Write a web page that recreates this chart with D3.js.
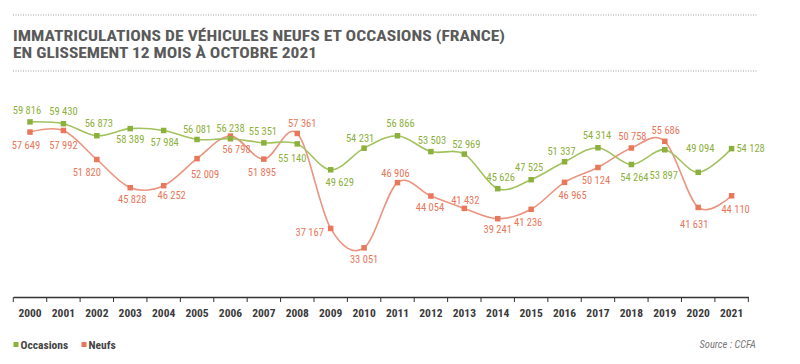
<!DOCTYPE html>
<html>
<head>
<meta charset="utf-8">
<script src="https://cdn.jsdelivr.net/npm/d3@7"></script>
<style>
  body { margin: 0; background: #fff; }
  svg { display: block; }
</style>
</head>
<body>
<script>
// years on the x axis
var years = d3.range(2000, 2022).map(String);

// plotted values (the 2018 points in the source are drawn with the values swapped)
var occasions = [59816, 59430, 56873, 58389, 57984, 56081, 56238, 55351, 55140, 49629, 54231,
                 56866, 53503, 52969, 45626, 47525, 51337, 54314, 50758, 53897, 49094, 54128];
var neufs = [57649, 57992, 51820, 45828, 46252, 52009, 56798, 51895, 57361, 37167, 33051,
             46906, 44054, 41432, 39241, 41236, 46965, 50124, 54264, 55686, 41631, 44110];

// figures printed next to the points
var occasionsLabels = [59816, 59430, 56873, 58389, 57984, 56081, 56238, 55351, 55140, 49629, 54231,
                       56866, 53503, 52969, 45626, 47525, 51337, 54314, 54264, 53897, 49094, 54128];
var neufsLabels = [57649, 57992, 51820, 45828, 46252, 52009, 56798, 51895, 57361, 37167, 33051,
                   46906, 44054, 41432, 39241, 41236, 46965, 50124, 50758, 55686, 41631, 44110];

// where each label sits relative to its point
var occOffsets = [[-3,-12],[0,-12],[2,-12],[0,11],[1,12],[0,-10],[0,-10],[-1,-12],[-5,14],[9,13],[-4,-10],
                  [3,-12],[1,-11],[2,-10],[3,-11],[-2,-12],[-3,-10],[-1,-12],[3,13],[-1,26],[2,-24],[19,0]];
var neufOffsets = [[-4,13],[0,15],[-10,13],[2,12],[8,10],[8,16],[6,13],[-2,13],[5,-10],[-21,4],[0,12],
                   [-2,-9],[-1,11],[1,-8],[0,11],[-3,13],[8,13],[-2,13],[1,-12],[1,-11],[-4,17],[4,14]];

var w = 800, h = 364;
var green = "#8cb03c", red = "#e8775b";

var svg = d3.select("body").append("svg")
  .attr("width", w)
  .attr("height", h)
  .style("background", "#fff");

var narrow = "'Liberation Sans Narrow', 'Roboto Condensed', Roboto, sans-serif";

// title and dotted rules
[15, 71].forEach(function(y) {
  svg.append("line")
    .attr("x1", 13).attr("x2", 757).attr("y1", y).attr("y2", y)
    .style("stroke", "#9a9a9a")
    .style("stroke-width", 1)
    .style("stroke-dasharray", "1,1.5");
});

svg.append("text")
  .text("IMMATRICULATIONS DE VÉHICULES NEUFS ET OCCASIONS (FRANCE)")
  .attr("x", 13).attr("y", 40.5)
  .attr("textLength", 492).attr("lengthAdjust", "spacingAndGlyphs")
  .style("font-family", narrow).style("font-weight", "bold").style("font-size", "15px")
  .style("fill", "#5a5a5a");
svg.append("text")
  .text("EN GLISSEMENT 12 MOIS À OCTOBRE 2021")
  .attr("x", 13).attr("y", 57.5)
  .attr("textLength", 304).attr("lengthAdjust", "spacingAndGlyphs")
  .style("font-family", narrow).style("font-weight", "bold").style("font-size", "15px")
  .style("fill", "#5a5a5a");

// scales
var x = d3.scaleBand().domain(years).range([13.3, 748.3]);
var y = d3.scaleLinear().domain([22600, 62000]).range([297, 111.6]);
var cx = function(i) { return x(years[i]) + x.bandwidth() / 2; };

// x axis: labels at band centres, ticks on band edges
var axis = svg.append("g")
  .attr("transform", "translate(0,297)")
  .call(d3.axisBottom(x).tickSize(0).tickPadding(12));
axis.select(".domain").style("stroke", "#333").style("stroke-width", 1.3);
axis.selectAll("text")
  .style("font-family", narrow).style("font-size", "11.5px").style("font-weight", "bold")
  .style("fill", "#3a3a3a");

svg.append("g").selectAll("line")
  .data(years.concat(["end"]))
  .enter()
  .append("line")
  .attr("x1", function(d) { return d === "end" ? x.range()[1] : x(d); })
  .attr("x2", function(d) { return d === "end" ? x.range()[1] : x(d); })
  .attr("y1", 297).attr("y2", 302)
  .style("stroke", "#333").style("stroke-width", 1);

var fmt = d3.formatLocale({ decimal: ",", thousands: " ", grouping: [3], currency: ["", " €"] }).format(",d");

var line = d3.line()
  .x(function(d, i) { return cx(i); })
  .y(function(d) { return y(d); })
  .curve(d3.curveCardinal.tension(0));

function drawSeries(values, labels, offsets, color, lineColor) {
  var g = svg.append("g");
  g.append("path")
    .datum(values)
    .attr("d", line)
    .style("fill", "none")
    .style("stroke", lineColor)
    .style("stroke-width", 1.6);

  g.selectAll("rect")
    .data(values)
    .enter()
    .append("rect")
    .attr("x", function(d, i) { return cx(i) - 2.75; })
    .attr("y", function(d) { return y(d) - 2.75; })
    .attr("width", 5.5).attr("height", 5.5)
    .style("fill", color);

  g.selectAll("text")
    .data(labels)
    .enter()
    .append("text")
    .text(function(d) { return fmt(d); })
    .attr("x", function(d, i) { return cx(i) + offsets[i][0]; })
    .attr("y", function(d, i) { return y(values[i]) + offsets[i][1]; })
    .attr("dy", "0.35em")
    .attr("text-anchor", "middle")
    .style("font-family", narrow).style("font-size", "10.5px")
    .style("fill", color);
}

drawSeries(neufs, neufsLabels, neufOffsets, red, "#eb9480");
drawSeries(occasions, occasionsLabels, occOffsets, green, "#a2c25e");

// legend
var legend = [["Occasions", green], ["Neufs", red]];
var lx = [13.5, 81.5];
legend.forEach(function(item, i) {
  svg.append("rect")
    .attr("x", lx[i]).attr("y", 342)
    .attr("width", 5).attr("height", 5)
    .style("fill", item[1]);
  svg.append("text")
    .text(item[0])
    .attr("x", lx[i] + 7).attr("y", 344.5).attr("dy", "0.35em")
    .style("font-family", narrow).style("font-size", "11.5px").style("font-weight", "bold")
    .style("fill", "#444");
});

svg.append("text")
  .text("Source : CCFA")
  .attr("x", 756).attr("y", 344.5).attr("dy", "0.35em")
  .attr("text-anchor", "end")
  .style("font-family", narrow).style("font-size", "10.5px").style("font-style", "italic")
  .style("fill", "#777");
</script>
</body>
</html>
